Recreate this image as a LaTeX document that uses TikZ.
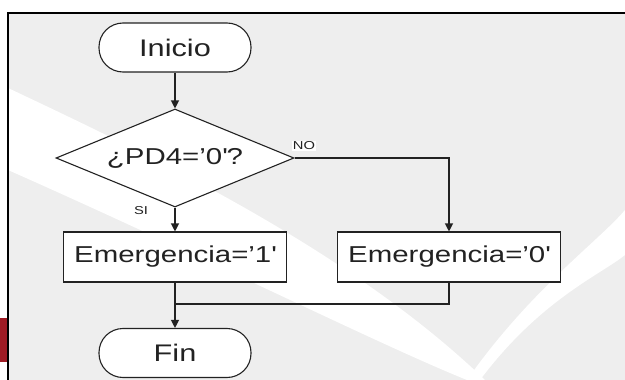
\documentclass[tikz,border=0pt]{standalone}
\usepackage{fontspec}
\setmainfont{Liberation Sans}[FakeStretch=1.28]
\usetikzlibrary{shapes.geometric,arrows.meta}
\definecolor{bg}{HTML}{EEEEEE}
\definecolor{ink}{HTML}{222222}
\definecolor{brand}{HTML}{9E1B24}
\begin{document}
\begin{tikzpicture}[x=1pt,y=-1pt,
  term/.style={draw=ink, fill=white, rounded corners=24pt, minimum width=152pt, minimum height=49pt, line width=1.1pt, font=\fontsize{24}{28}\selectfont, text=ink, inner sep=0pt},
  proc/.style={draw=ink, fill=white, minimum width=223pt, minimum height=50pt, line width=1.1pt, font=\fontsize{23}{27}\selectfont, text=ink, inner sep=0pt},
  decis/.style={diamond, aspect=2.43, draw=ink, fill=white, minimum width=238pt, minimum height=98pt, inner sep=0pt, line width=1.1pt, font=\fontsize{23}{27}\selectfont, text=ink},
  conn/.style={draw=ink, line width=1.2pt},
  arr/.style={conn, -{Triangle[length=8pt,width=8pt]}},
  lbl/.style={font=\fontsize{11.5}{13}\selectfont, text=ink, inner sep=1pt}
]
\useasboundingbox (0,0) rectangle (625,380);
\fill[white] (0,0) rectangle (625,380);
% background panel
\fill[bg] (8,13) rectangle (625,380);
\fill[white] (8,88) .. controls (150,155) and (350,250) .. (485,380) -- (467,380) .. controls (380,345) and (200,255) .. (8,170) -- cycle;
\fill[white] (625,210) .. controls (600,240) and (530,290) .. (467,380) -- (480,380) .. controls (540,300) and (600,275) .. (625,255) -- cycle;
\draw[black, line width=1.2pt] (8,380) -- (8,13) -- (625,13);
\fill[brand] (0,318) rectangle (7,362);
% nodes
\node[term] (ini) at (175,47.5) {Inicio};
\node[decis] (dec) at (175,158) {¿PD4=’0\textquotesingle?};
\node[proc] (e1) at (175,257) {Emergencia=’1\textquotesingle};
\node[proc] (e0) at (449,257) {Emergencia=’0\textquotesingle};
\node[term] (fin) at (175,353) {Fin};
\coordinate (m) at (175,304);
% connectors
\draw[arr] (ini.south) -- (dec.north);
\draw[arr] (dec.south) -- (e1.north);
\draw[arr] (dec.east) -| (e0.north);
\draw[arr] (e1.south) -- (fin.north);
\draw[conn] (e0.south) |- (m);
% labels
\node[lbl, fill=white] (no) at (304,146) {NO};
\node[lbl] (si) at (141,211) {SI};
\end{tikzpicture}
\end{document}
